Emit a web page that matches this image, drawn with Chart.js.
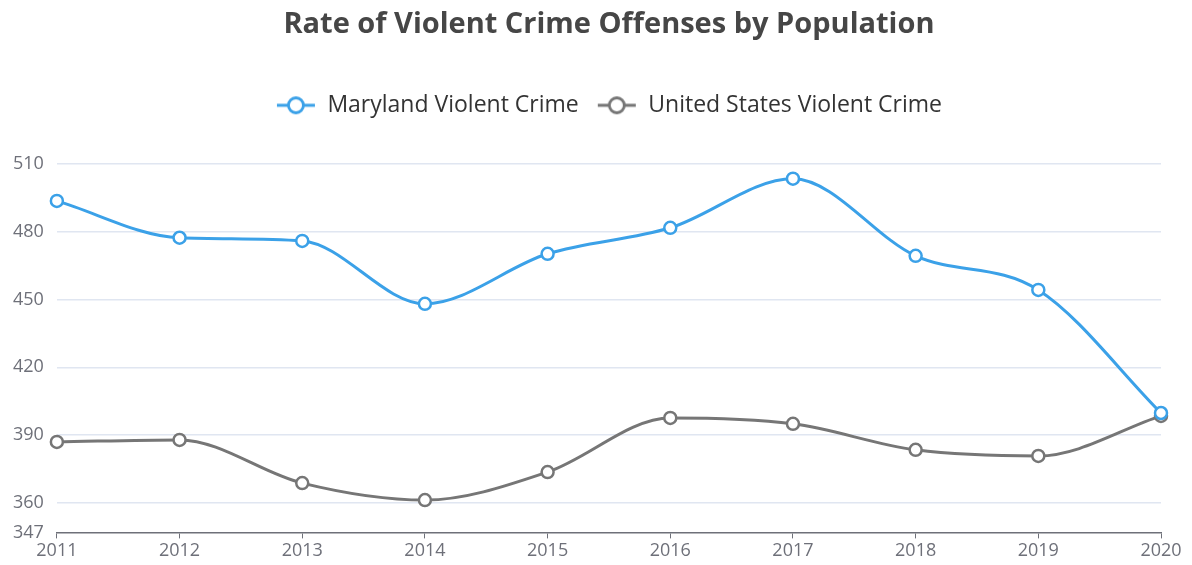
<!DOCTYPE html>
<html>
<head>
<meta charset="utf-8">
<title>Rate of Violent Crime Offenses by Population</title>
<script src="https://cdn.jsdelivr.net/npm/chart.js@4/dist/chart.umd.min.js"></script>
<style>
  html, body { margin: 0; padding: 0; background: #fff; }
  #wrap { width: 1192px; height: 565px; }
</style>
</head>
<body>
<div id="wrap"><canvas id="crimeChart"></canvas></div>
<script>
const years = ["2011", "2012", "2013", "2014", "2015", "2016", "2017", "2018", "2019", "2020"];
const marylandRate = [493.6, 477.3, 475.9, 448.1, 470.2, 481.7, 503.4, 469.3, 454.2, 399.8];
const usRate = [387.0, 387.9, 368.8, 361.3, 373.7, 397.6, 395.0, 383.5, 380.8, 398.5];
const yTicks = [347, 360, 390, 420, 450, 480, 510];

const BLUE = "#3ba1e8";
const GREY = "#767676";
const FONT = "'Open Sans', 'Noto Sans', sans-serif";

// legend marker: short line with a hollow circle in the middle
const makeMarker = (color) => {
  const c = document.createElement("canvas");
  c.width = 40;
  c.height = 20;
  const ctx = c.getContext("2d");
  ctx.strokeStyle = color;
  ctx.lineWidth = 3;
  ctx.beginPath();
  ctx.moveTo(1, 10);
  ctx.lineTo(39, 10);
  ctx.stroke();
  ctx.beginPath();
  ctx.arc(20, 10, 7.5, 0, Math.PI * 2);
  ctx.fillStyle = "#fff";
  ctx.fill();
  ctx.lineWidth = 2.8;
  ctx.stroke();
  return c;
};

// push the plot area further down below the legend,
// and center title + legend over the plot area
const headerLayout = {
  id: "headerLayout",
  afterInit(chart) {
    const fit = chart.legend.fit;
    chart.legend.fit = function () {
      fit.call(this);
      this.height += 37;
    };
  },
  afterLayout(chart) {
    const { left, right } = chart.chartArea;
    [chart.legend, chart.titleBlock].forEach((box) => {
      if (!box) return;
      box.left = left;
      box.right = right;
      box.width = right - left;
    });
  },
};

const ctx = document.getElementById("crimeChart").getContext("2d");

new Chart(ctx, {
  type: "line",
  data: {
    labels: years,
    datasets: [
      {
        label: "Maryland Violent Crime",
        data: marylandRate,
        borderColor: BLUE,
        backgroundColor: "#fff",
        borderWidth: 3,
        pointRadius: 6,
        pointBorderWidth: 2.5,
        pointBackgroundColor: "#fff",
        pointBorderColor: BLUE,
        cubicInterpolationMode: "monotone",
        pointStyle: "circle",
      },
      {
        label: "United States Violent Crime",
        data: usRate,
        borderColor: GREY,
        backgroundColor: "#fff",
        borderWidth: 3,
        pointRadius: 6,
        pointBorderWidth: 2.5,
        pointBackgroundColor: "#fff",
        pointBorderColor: GREY,
        cubicInterpolationMode: "monotone",
        pointStyle: "circle",
      },
    ],
  },
  plugins: [headerLayout],
  options: {
    responsive: true,
    maintainAspectRatio: false,
    animation: false,
    layout: { padding: { left: 0, right: 31, top: 4, bottom: 1 } },
    plugins: {
      title: {
        display: true,
        text: "Rate of Violent Crime Offenses by Population",
        color: "#464646",
        font: { family: FONT, size: 29, weight: "bold" },
        padding: { top: 3, bottom: 34 },
      },
      legend: {
        position: "top",
        labels: {
          color: "#333",
          font: { family: FONT, size: 23 },
          usePointStyle: true,
          pointStyleWidth: 40,
          padding: 18,
          generateLabels: (chart) =>
            chart.data.datasets.map((ds, i) => ({
              text: ds.label,
              pointStyle: makeMarker(ds.borderColor),
              fontColor: "#333",
              hidden: !chart.isDatasetVisible(i),
              datasetIndex: i,
              lineWidth: 0,
            })),
        },
      },
      tooltip: { enabled: false },
    },
    scales: {
      x: {
        offset: false,
        grid: {
          display: true,
          drawOnChartArea: false,
          drawTicks: true,
          tickLength: 6,
          color: "#6e7079",
        },
        border: { display: true, color: "#6e7079", width: 1.5 },
        ticks: {
          color: "#6e7079",
          font: { family: FONT, size: 18 },
          padding: 2,
          maxRotation: 0,
        },
      },
      y: {
        min: 347,
        max: 510,
        afterBuildTicks: (axis) => {
          axis.ticks = yTicks.map((v) => ({ value: v }));
        },
        grid: {
          color: (c) => (c.tick && c.tick.value === 347 ? "rgba(0,0,0,0)" : "#e0e6f1"),
          lineWidth: 1.5,
          drawTicks: false,
        },
        border: { display: false },
        ticks: {
          color: "#6e7079",
          font: { family: FONT, size: 18 },
          padding: 13,
        },
      },
    },
  },
});
</script>
</body>
</html>
